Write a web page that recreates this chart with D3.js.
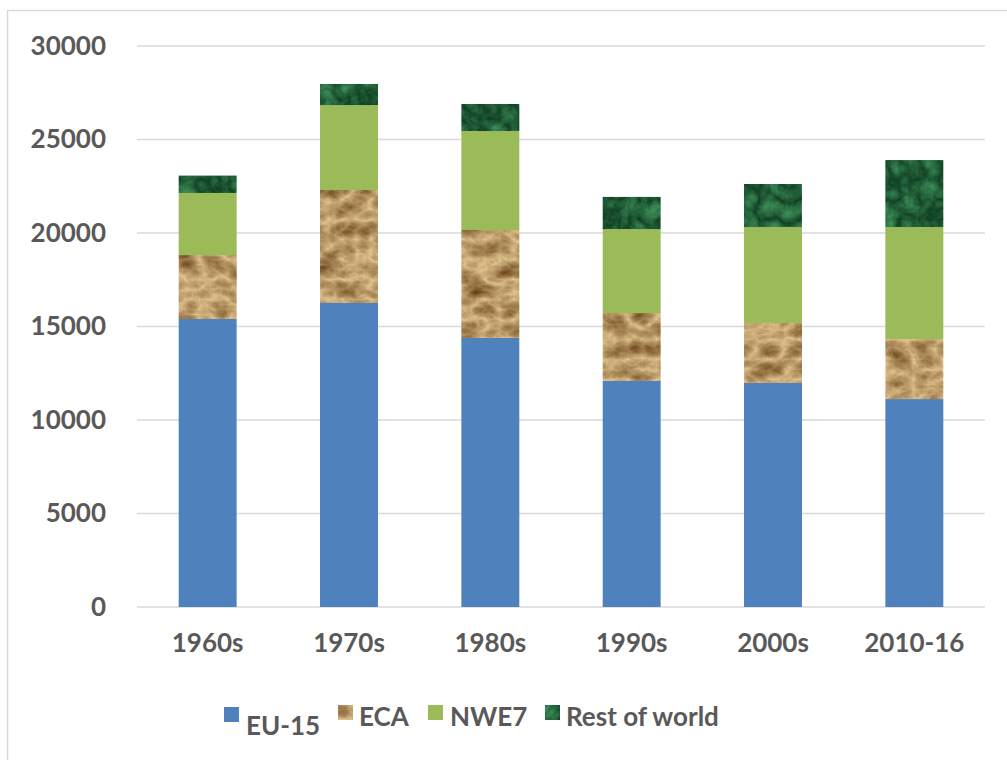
<!DOCTYPE html>
<html><head><meta charset="utf-8">
<script src="https://cdn.jsdelivr.net/npm/d3@7"></script>
<style>body{margin:0;background:#fff}svg{display:block}</style>
</head><body>
<svg id="c" width="1007" height="760"></svg>
<script>
const categories = ["1960s","1970s","1980s","1990s","2000s","2010-16"];
const seriesNames = ["EU-15","ECA","NWE7","Rest of world"];
const eu15 = [15400,16260,14390,12090,11980,11120];
const eca = [3420,6040,5770,3630,3210,3210];
const nwe7 = [3320,4540,5290,4490,5130,5990];
const rest = [930,1130,1450,1720,2300,3580];
const yTicks = [0,5000,10000,15000,20000,25000,30000];

const svg = d3.select("#c");
const defs = svg.append("defs");
function texFilter(id, freq, seed, rows, type){
  const f = defs.append("filter").attr("id",id).attr("x",0).attr("y",0).attr("width",1).attr("height",1)
    .attr("filterUnits","objectBoundingBox").attr("color-interpolation-filters","sRGB");
  f.append("feTurbulence").attr("type",type).attr("baseFrequency",freq).attr("numOctaves",4).attr("seed",seed).attr("result","n");
  f.append("feColorMatrix").attr("in","n").attr("type","matrix").attr("values",rows).attr("result","c");
  f.append("feComposite").attr("in","c").attr("in2","SourceGraphic").attr("operator","in");
}
// ECA sandy rock: light tan with brown shading
texFilter("texECA","0.035 0.05",11,
  "-0.55 0 0 0 0.90  -0.6 0 0 0 0.79  -0.55 0 0 0 0.58  0 0 0 0 1","turbulence");
// Rest of world dark green marble
texFilter("texROW","0.05 0.05",3,
  "0.25 0 0 0 0.05  0.45 0 0 0 0.22  0.3 0 0 0 0.12  0 0 0 0 1","turbulence");

svg.append("rect").attr("x",7.5).attr("y",10.5).attr("width",1010).attr("height",760)
  .attr("fill","none").attr("stroke","#d9d9d9").attr("stroke-width",1.5);

const x = d3.scaleBand().domain(categories).range([137,985]).paddingInner(0.59).paddingOuter(0.295);
const y = d3.scaleLinear().domain([0,30000]).range([607,46]);

const grid = svg.append("g");
grid.selectAll("line").data(yTicks).join("line")
  .attr("x1",137).attr("x2",985).attr("y1",d=>y(d)).attr("y2",d=>y(d))
  .attr("stroke","#d9d9d9").attr("stroke-width",1.5);

const yAxis = svg.append("g").attr("transform","translate(106,0)")
  .call(d3.axisLeft(y).tickValues(yTicks).tickSize(0).tickPadding(0).tickFormat(d3.format("d")));
yAxis.select(".domain").remove();
yAxis.selectAll("text").attr("fill","#595959").style("font-family","Lato, 'Open Sans', sans-serif")
  .style("font-weight","bold").style("font-size","26px");

const xAxis = svg.append("g").attr("transform","translate(0,631)")
  .call(d3.axisBottom(x).tickSize(0).tickPadding(0));
xAxis.select(".domain").remove();
xAxis.selectAll("text").attr("fill","#595959").attr("dy","0.8em").style("font-family","Lato, 'Open Sans', sans-serif")
  .style("font-weight","bold").style("font-size","26px");

const rows = categories.map((c,i)=>({cat:c,"EU-15":eu15[i],"ECA":eca[i],"NWE7":nwe7[i],"Rest of world":rest[i]}));
const stack = d3.stack().keys(seriesNames)(rows);
const fills = {"EU-15":"#4f81bd","ECA":"#c9a46f","NWE7":"#9bbb59","Rest of world":"#1d4d2c"};
const filt = {"ECA":"url(#texECA)","Rest of world":"url(#texROW)"};
stack.forEach(s=>{
  svg.append("g").selectAll("rect").data(s).join("rect")
    .attr("x",d=>x(d.data.cat)).attr("width",x.bandwidth())
    .attr("y",d=>y(d[1])).attr("height",d=>y(d[0])-y(d[1]))
    .attr("fill",fills[s.key])
    .attr("filter",filt[s.key]||null);
});

// legend
const legPos = [{sx:224,tx:246,sy:707,ty:735},{sx:338,tx:359,sy:705,ty:726},{sx:428,tx:450,sy:705,ty:726},{sx:545,tx:566,sy:705,ty:726}];
const lg = svg.append("g");
seriesNames.forEach((n,i)=>{
  const p = legPos[i];
  lg.append("rect").attr("x",p.sx).attr("y",p.sy).attr("width",15).attr("height",15)
    .attr("fill",fills[n]).attr("filter",filt[n]||null);
  lg.append("text").attr("x",p.tx).attr("y",p.ty).text(n).attr("fill","#595959")
    .style("font-family","Lato, 'Open Sans', sans-serif").style("font-weight","bold").style("font-size","26px");
});
</script>
</body></html>
